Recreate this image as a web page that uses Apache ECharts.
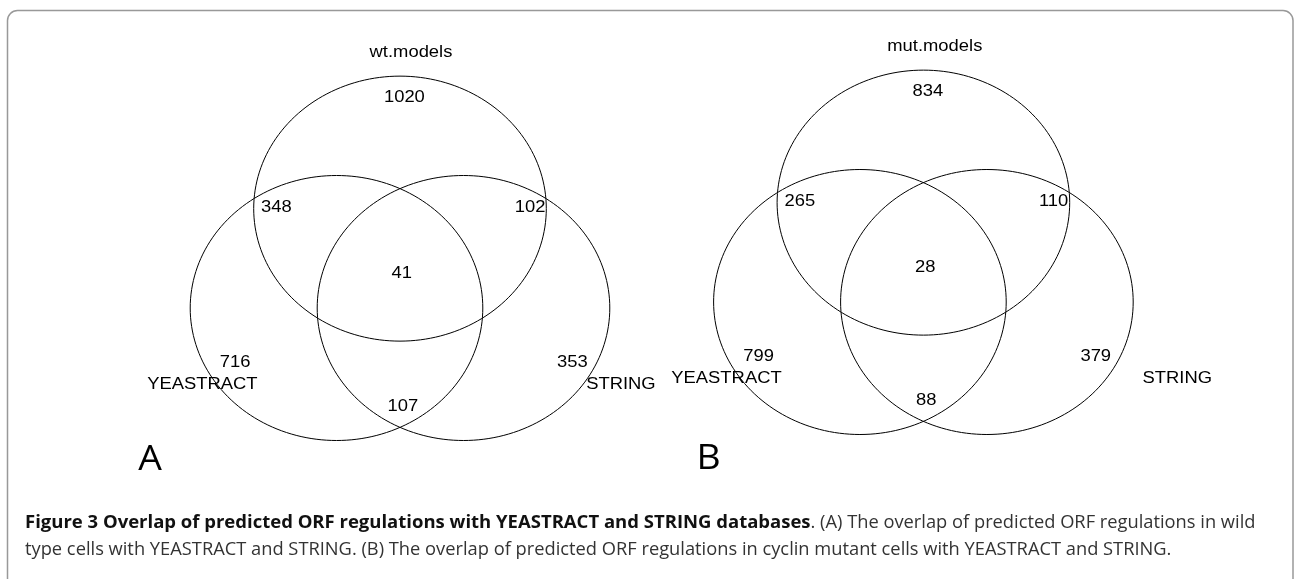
<!DOCTYPE html>
<html lang="en">
<head>
  <meta charset="utf-8">
  <title>Figure 3 - Venn overlap</title>
  <script src="https://cdn.jsdelivr.net/npm/echarts@6/dist/echarts.min.js"></script>
  <style>
    html, body { margin: 0; padding: 0; background: #fff; }
    #venn { width: 1294px; height: 579px; }
  </style>
</head>
<body>
<div id="venn"></div>
<script>
  // regions: models only, models+YEASTRACT, models+STRING, all three,
  // YEASTRACT only, STRING only, YEASTRACT+STRING
  var regions = ['models', 'models&YEASTRACT', 'models&STRING', 'all', 'YEASTRACT', 'STRING', 'YEASTRACT&STRING'];
  var wtCounts = [1020, 348, 102, 41, 716, 353, 107];
  var mutCounts = [834, 265, 110, 28, 799, 379, 88];
  var setNames = ['YEASTRACT', 'STRING'];
  var panelTitles = ['wt.models', 'mut.models'];
  var panelLetters = ['A', 'B'];

  // venn layout in unit-circle coordinates (same for both panels)
  var circleCenters = [[0, 0.75], [-0.434, 0], [0.434, 0]];
  var regionAnchors = [[0.03, 1.59], [-0.845, 0.76], [0.89, 0.76], [0.012, 0.258],
                       [-1.127, -0.41], [1.178, -0.41], [0.02, -0.742]];
  var panelLayout = [
    { grid: { left: 107.4, top: 43 }, title: [0.075, 1.927], yea: [-1.351, -0.574], str: [1.51, -0.574], letter: [-1.709, -1.15] },
    { grid: { left: 630.8, top: 37 }, title: [0.078, 1.927], yea: [-1.346, -0.576], str: [1.735, -0.576], letter: [-1.468, -1.19] }
  ];

  var chart = echarts.init(document.getElementById('venn'));

  function circleRenderer(params, api) {
    var c = api.coord([api.value(0), api.value(1)]);
    var s = api.size([1, 1]);
    var pts = [];
    for (var k = 0; k < 180; k++) {
      var t = k / 180 * Math.PI * 2;
      pts.push([c[0] + s[0] * Math.cos(t), c[1] + s[1] * Math.sin(t)]);
    }
    return { type: 'polygon', shape: { points: pts },
      style: { fill: 'none', stroke: '#000', lineWidth: 1 } };
  }

  function textRenderer(texts, font, stretch) {
    return function (params, api) {
      var p = api.coord([api.value(0), api.value(1)]);
      return { type: 'text', x: p[0], y: p[1], scaleX: stretch,
        style: { text: texts[params.dataIndex], font: font, fill: '#000',
          align: 'center', verticalAlign: 'middle' } };
    };
  }

  var grids = [], xAxes = [], yAxes = [], seriesList = [];
  [wtCounts, mutCounts].forEach(function (counts, i) {
    var lay = panelLayout[i];
    grids.push({ left: lay.grid.left, top: lay.grid.top, width: 585.2, height: 463.75 });
    xAxes.push({ type: 'value', gridIndex: i, min: -2, max: 2, show: false });
    yAxes.push({ type: 'value', gridIndex: i, min: -1.5, max: 2, show: false });

    seriesList.push({
      type: 'custom', name: panelTitles[i], xAxisIndex: i, yAxisIndex: i,
      silent: true, renderItem: circleRenderer, data: circleCenters
    });

    var texts = counts.map(String).concat([panelTitles[i], setNames[0], setNames[1]]);
    var anchors = regionAnchors.concat([lay.title, lay.yea, lay.str]);
    seriesList.push({
      type: 'custom', xAxisIndex: i, yAxisIndex: i, silent: true,
      renderItem: textRenderer(texts, '16.3px "Liberation Sans", Arial, sans-serif', 1.13),
      data: anchors
    });
    seriesList.push({
      type: 'custom', xAxisIndex: i, yAxisIndex: i, silent: true,
      renderItem: textRenderer([panelLetters[i]], '34px "Open Sans", sans-serif', 1.1),
      data: [lay.letter]
    });
  });

  var option = {
    animation: false,
    title: {
      left: 20, top: 504.5,
      text: '{b|Figure 3 Overlap of predicted ORF regulations with YEASTRACT and STRING databases}' +
            '{r|. (A) The overlap of predicted ORF regulations in wild}\n' +
            '{r|type cells with YEASTRACT and STRING. (B) The overlap of predicted ORF regulations in cyclin mutant cells with YEASTRACT and STRING.}',
      textStyle: {
        rich: {
          b: { fontFamily: 'Open Sans', fontWeight: 'bold', fontSize: 18.5, lineHeight: 26.8, color: '#111' },
          r: { fontFamily: 'Open Sans', fontWeight: 'normal', fontSize: 18.3, lineHeight: 26.8, color: '#333' }
        }
      }
    },
    graphic: [{
      type: 'rect', silent: true,
      shape: { x: 7.5, y: 10.5, width: 1285.5, height: 580, r: 10 },
      style: { fill: 'none', stroke: '#999', lineWidth: 1.5 }
    }],
    grid: grids,
    xAxis: xAxes,
    yAxis: yAxes,
    series: seriesList
  };
  chart.setOption(option);
</script>
</body>
</html>
